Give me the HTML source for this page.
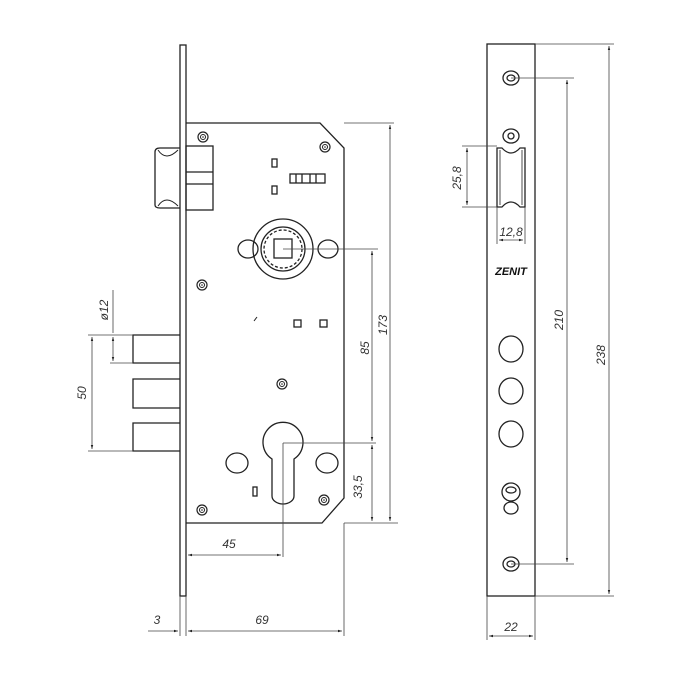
<!DOCTYPE html>
<html><head><meta charset="utf-8"><style>html,body{margin:0;padding:0;background:#fff}svg{display:block}
text{font-family:"Liberation Sans",sans-serif;font-style:italic;fill:#333;font-size:12px}</style></head><body>
<svg width="700" height="700" viewBox="0 0 700 700" xmlns="http://www.w3.org/2000/svg">
<defs>
<marker id="a" viewBox="0 0 10 10" refX="10" refY="5" markerWidth="7" markerHeight="5" orient="auto-start-reverse"><path d="M0,2 L10,5 L0,8z" fill="#222"/></marker>
<g id="scr"><circle r="5" fill="#fff" stroke="#222" stroke-width="1.2"/><circle r="2.5" fill="none" stroke="#222"/><circle r="0.8" fill="#222"/></g>
</defs>
<g fill="none" stroke="#222" stroke-width="1.3">
<!-- front strip -->
<rect x="180" y="45" width="6" height="551" fill="#fff"/>
<!-- case -->
<path d="M186,123 L320,123 L344,148 L344,498 L322,523 L186,523"/>
<!-- latch -->
<rect x="186" y="146" width="27" height="64"/>
<line x1="186" y1="172" x2="213" y2="172"/><line x1="186" y1="184" x2="213" y2="184"/>
<path d="M180,148 L160,148 Q155,148 155,152 L155,205 Q155,208 160,208 L180,208"/>
<path d="M158,150 Q166,162 178,150" stroke-width="1"/><path d="M158,206 Q166,194 178,206" stroke-width="1"/>
<!-- small rects -->
<rect x="272" y="159" width="5" height="8"/><rect x="272" y="186" width="5" height="8"/>
<rect x="290" y="174" width="35" height="9"/>
<line x1="296" y1="174" x2="296" y2="183"/><line x1="302" y1="174" x2="302" y2="183"/><line x1="310" y1="174" x2="310" y2="183"/><line x1="316" y1="174" x2="316" y2="183"/>
<!-- spindle -->
<circle cx="283" cy="249" r="30"/><circle cx="283" cy="249" r="22"/><circle cx="283" cy="249" r="19" stroke-dasharray="3 2"/>
<rect x="274" y="239" width="18" height="19"/>
<ellipse cx="248" cy="249" rx="10" ry="9"/><ellipse cx="328" cy="249" rx="10" ry="9"/>
<rect x="294" y="320" width="7" height="7"/><rect x="320" y="320" width="7" height="7"/>
<line x1="254" y1="321" x2="257" y2="317" stroke-width="1"/>
<!-- cylinder -->
<path d="M272,459 A20,20 0 1 1 294,459 L294,496 A11,8 0 0 1 272,496 Z"/>
<ellipse cx="237" cy="463" rx="11" ry="10"/><ellipse cx="327" cy="463" rx="11" ry="10"/>
<rect x="253" y="487" width="4" height="9"/>
<!-- deadbolts -->
<path d="M180,335 L133,335 L133,363 L180,363"/>
<path d="M180,379 L133,379 L133,408 L180,408"/>
<path d="M180,423 L133,423 L133,451 L180,451"/>
<!-- right view -->
<rect x="487" y="44" width="48" height="552"/>
<ellipse cx="511" cy="78" rx="8" ry="7"/><ellipse cx="511" cy="78" rx="4" ry="3"/>
<ellipse cx="511" cy="136" rx="8" ry="7"/><circle cx="511" cy="136" r="3"/>
<path d="M497,148 L497,207 L502,207 Q511,197 520,207 L525,207 L525,148 L520,148 Q511,158 502,148 Z"/>
<line x1="500" y1="150" x2="500" y2="205" stroke-width="0.8"/><line x1="522" y1="150" x2="522" y2="205" stroke-width="0.8"/>
<ellipse cx="511" cy="349" rx="12" ry="13"/><ellipse cx="511" cy="391" rx="12" ry="13"/><ellipse cx="511" cy="434" rx="12" ry="13"/>
<ellipse cx="511" cy="492" rx="9" ry="9"/><ellipse cx="511" cy="490" rx="5" ry="3"/>
<ellipse cx="511" cy="508" rx="7" ry="6"/>
<ellipse cx="511" cy="564" rx="8" ry="7"/><ellipse cx="511" cy="564" rx="4" ry="3"/>
</g>
<use href="#scr" x="203" y="137"/><use href="#scr" x="325" y="147"/><use href="#scr" x="202" y="285"/>
<use href="#scr" x="282" y="384"/><use href="#scr" x="202" y="510"/><use href="#scr" x="324" y="500"/>
<!-- dimension lines -->
<g stroke="#444" stroke-width="0.8" fill="none">
<line x1="344" y1="123" x2="394" y2="123"/><line x1="344" y1="523" x2="398" y2="523"/>
<line x1="390" y1="125" x2="390" y2="521" marker-start="url(#a)" marker-end="url(#a)"/>
<line x1="283" y1="249" x2="378" y2="249"/><line x1="283" y1="443" x2="376" y2="443"/>
<line x1="372" y1="251" x2="372" y2="441" marker-start="url(#a)" marker-end="url(#a)"/>
<line x1="372" y1="445" x2="372" y2="521" marker-start="url(#a)" marker-end="url(#a)"/>
<line x1="283" y1="443" x2="283" y2="557"/>
<line x1="188" y1="555" x2="281" y2="555" marker-start="url(#a)" marker-end="url(#a)"/>
<line x1="180" y1="596" x2="180" y2="636"/><line x1="186" y1="596" x2="186" y2="636"/><line x1="344" y1="523" x2="344" y2="636"/>
<line x1="148" y1="631" x2="178" y2="631" marker-end="url(#a)"/>
<line x1="188" y1="631" x2="342" y2="631" marker-start="url(#a)" marker-end="url(#a)"/>
<line x1="88" y1="335" x2="133" y2="335"/><line x1="88" y1="451" x2="133" y2="451"/>
<line x1="92" y1="337" x2="92" y2="449" marker-start="url(#a)" marker-end="url(#a)"/>
<line x1="110" y1="363" x2="133" y2="363"/>
<line x1="113" y1="290" x2="113" y2="333" /><line x1="113" y1="337" x2="113" y2="361" marker-start="url(#a)" marker-end="url(#a)"/>
<!-- right dims -->
<line x1="535" y1="44" x2="614" y2="44"/><line x1="535" y1="596" x2="614" y2="596"/>
<line x1="609" y1="46" x2="609" y2="594" marker-start="url(#a)" marker-end="url(#a)"/>
<line x1="511" y1="78" x2="574" y2="78"/><line x1="511" y1="564" x2="574" y2="564"/>
<line x1="567" y1="80" x2="567" y2="562" marker-start="url(#a)" marker-end="url(#a)"/>
<line x1="462" y1="146" x2="497" y2="146"/><line x1="462" y1="207" x2="497" y2="207"/>
<line x1="467" y1="148" x2="467" y2="205" marker-start="url(#a)" marker-end="url(#a)"/>
<line x1="497" y1="207" x2="497" y2="244"/><line x1="525" y1="207" x2="525" y2="244"/>
<line x1="499" y1="240" x2="523" y2="240" marker-start="url(#a)" marker-end="url(#a)"/>
<line x1="487" y1="596" x2="487" y2="640"/><line x1="535" y1="596" x2="535" y2="640"/>
<line x1="489" y1="636" x2="533" y2="636" marker-start="url(#a)" marker-end="url(#a)"/>
</g>
<text transform="translate(387,325) rotate(-90)" text-anchor="middle">173</text>
<text transform="translate(369,348) rotate(-90)" text-anchor="middle">85</text>
<text transform="translate(362,487) rotate(-90)" text-anchor="middle">33,5</text>
<text x="229" y="548" text-anchor="middle">45</text>
<text x="157" y="624" text-anchor="middle">3</text>
<text x="262" y="624" text-anchor="middle">69</text>
<text transform="translate(86,393) rotate(-90)" text-anchor="middle">50</text>
<text transform="translate(108,310) rotate(-90)" text-anchor="middle">ø12</text>
<text transform="translate(461,178) rotate(-90)" text-anchor="middle">25,8</text>
<text x="511" y="236" text-anchor="middle">12,8</text>
<text x="511" y="275" text-anchor="middle" style="font-weight:bold;font-size:11px;fill:#111">ZENIT</text>
<text transform="translate(563,320) rotate(-90)" text-anchor="middle">210</text>
<text transform="translate(605,355) rotate(-90)" text-anchor="middle">238</text>
<text x="511" y="631" text-anchor="middle">22</text>
</svg>
</body></html>
